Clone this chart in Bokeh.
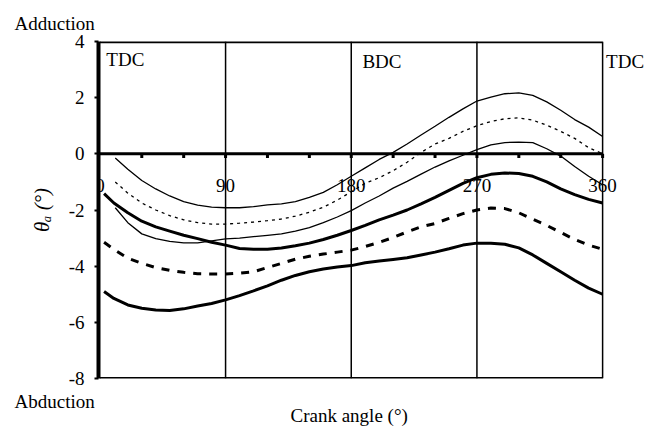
import math
from bokeh.plotting import figure
from bokeh.models import Range1d, Span, Label, FixedTicker, Title
from bokeh.core.properties import value
from bokeh.embed import file_html
from bokeh.resources import INLINE

FONT = "Liberation Serif"

# crank angle samples
x_thin = [11, 20, 30, 40, 50, 60, 70, 80, 90, 100, 110, 120, 130, 140, 150, 160, 170, 180,
          190, 200, 210, 220, 230, 240, 250, 260, 270, 280, 290, 300, 310, 320, 330, 340, 350, 360]
x_thick = [3, 10, 20, 30, 40, 50, 60, 70, 80, 90, 100, 110, 120, 130, 140, 150, 160, 170, 180,
           190, 200, 210, 220, 230, 240, 250, 260, 270, 280, 290, 300, 310, 320, 330, 340, 350, 360]

# upper thin solid (mean + SD)
upper_sd = [-0.15, -0.55, -0.95, -1.25, -1.5, -1.7, -1.83, -1.9, -1.92, -1.92, -1.88, -1.82,
            -1.78, -1.7, -1.55, -1.37, -1.1, -0.8, -0.5, -0.2, 0.05, 0.35, 0.67, 0.98, 1.3,
            1.6, 1.88, 2.02, 2.14, 2.17, 2.08, 1.85, 1.55, 1.22, 0.95, 0.62]
# dotted mean
upper_mean = [-1.0, -1.4, -1.75, -2.0, -2.2, -2.35, -2.45, -2.5, -2.5, -2.47, -2.43, -2.38,
              -2.32, -2.22, -2.08, -1.9, -1.65, -1.35, -1.05, -0.85, -0.6, -0.3, 0.05, 0.35,
              0.55, 0.8, 1.0, 1.15, 1.25, 1.28, 1.2, 1.02, 0.8, 0.55, 0.22, 0.0]
# lower thin solid (mean - SD)
lower_sd = [-1.92, -2.45, -2.85, -3.02, -3.12, -3.17, -3.17, -3.1, -3.03, -3.0, -2.95, -2.9,
            -2.85, -2.75, -2.63, -2.45, -2.25, -2.02, -1.75, -1.5, -1.22, -0.98, -0.72, -0.47,
            -0.25, -0.05, 0.15, 0.32, 0.4, 0.42, 0.4, 0.18, -0.08, -0.45, -0.8, -1.1]
# thick solid (upper of lower group)
thick_upper = [-1.42, -1.75, -2.1, -2.4, -2.6, -2.75, -2.9, -3.02, -3.15, -3.25, -3.37, -3.4,
               -3.4, -3.35, -3.27, -3.18, -3.05, -2.9, -2.73, -2.55, -2.35, -2.18, -2.0, -1.78,
               -1.55, -1.3, -1.05, -0.85, -0.73, -0.68, -0.7, -0.8, -1.0, -1.25, -1.45, -1.62, -1.75]
# thick dashed mean
thick_mean = [-3.15, -3.4, -3.72, -3.9, -4.05, -4.15, -4.22, -4.27, -4.28, -4.28, -4.25, -4.2,
              -4.05, -3.9, -3.75, -3.65, -3.57, -3.5, -3.43, -3.3, -3.15, -2.98, -2.78, -2.6,
              -2.48, -2.3, -2.13, -2.0, -1.93, -1.95, -2.1, -2.33, -2.55, -2.8, -3.05, -3.25, -3.4]
# thick solid lower
thick_lower = [-4.9, -5.15, -5.38, -5.5, -5.56, -5.58, -5.52, -5.42, -5.33, -5.2, -5.05, -4.88,
               -4.7, -4.5, -4.33, -4.2, -4.1, -4.03, -3.98, -3.88, -3.82, -3.76, -3.7, -3.6,
               -3.5, -3.38, -3.25, -3.18, -3.18, -3.22, -3.35, -3.6, -3.9, -4.2, -4.5, -4.78, -5.0]

x_labels = [0, 90, 180, 270, 360]
x_minor = [30, 60, 90, 120, 150, 180, 210, 240, 270, 300, 330, 360]
y_ticks = [-8, -6, -4, -2, 0, 2, 4]
v_lines = [90, 180, 270]

p = figure(width=655, height=428, output_backend="svg", toolbar_location=None,
           x_range=Range1d(-1, 390), y_range=Range1d(-8, 4), x_axis_location=None,
           title="Adduction",
           min_border_left=98, min_border_right=11, min_border_top=41, min_border_bottom=50)
p.xgrid.visible = False
p.ygrid.visible = False
p.outline_line_color = None
p.background_fill_color = "white"
p.border_fill_color = "white"

p.title.align = "left"
p.title.offset = -84
p.title.text_font = FONT
p.title.text_font_size = "19px"
p.title.text_font_style = "normal"
p.title.text_color = "black"
p.title.standoff = 16

t_abd = Title(text="Abduction", align="left", offset=-84, text_font=FONT,
              text_font_size="19px", text_font_style="normal", text_color="black",
              standoff=21)
t_crank = Title(text="Crank angle (°)", align="left", offset=192, text_font=FONT,
                text_font_size="19px", text_font_style="normal", text_color="black",
                standoff=-36, vertical_align="top")
p.add_layout(t_abd, "below")
p.add_layout(t_crank, "below")

ya = p.yaxis[0]
ya.ticker = FixedTicker(ticks=y_ticks)
ya.major_label_overrides = {t: str(t) for t in y_ticks}
ya.axis_line_width = 4
ya.axis_line_color = "black"
ya.major_tick_line_width = 2
ya.major_tick_in = 0
ya.major_tick_out = 4
ya.minor_tick_line_color = None
ya.major_label_standoff = 10
ya.major_label_text_font = FONT
ya.major_label_text_font_size = "19px"
ya.major_label_text_color = "black"
ya.axis_label = "θₐ (°)"
ya.axis_label_text_font = FONT
ya.axis_label_text_font_size = "21px"
ya.axis_label_text_font_style = "italic"
ya.axis_label_text_color = "black"
ya.axis_label_standoff = 12

# frame: right border at 360, vertical lines at BDC etc.
for xv in v_lines:
    p.add_layout(Span(location=xv, dimension="height", line_color="black", line_width=1.5))
p.add_layout(Span(location=x_labels[-1], dimension="height", line_color="black", line_width=1.5))
p.segment(x0=[x_labels[0]], y0=[y_ticks[-1]], x1=[x_labels[-1]], y1=[y_ticks[-1]],
          line_color="black", line_width=3.5)
p.segment(x0=[x_labels[0]], y0=[y_ticks[0]], x1=[x_labels[-1]], y1=[y_ticks[0]],
          line_color="black", line_width=3)
# zero line acting as x axis
p.segment(x0=[x_labels[0]], y0=[0], x1=[x_labels[-1]], y1=[0], line_color="black", line_width=3)
p.segment(x0=x_minor, y0=[0] * len(x_minor), x1=x_minor, y1=[-0.15] * len(x_minor),
          line_color="black", line_width=3)

p.text(x=x_labels, y=[-1.14] * len(x_labels), text=[str(v) for v in x_labels],
       text_font=value(FONT), text_font_size="19px", text_align="center",
       text_baseline="middle", text_color="black")

p.line(x_thin, upper_sd, line_color="black", line_width=1.3)
p.line(x_thin, upper_mean, line_color="black", line_width=1.3, line_dash="3 4")
p.line(x_thin, lower_sd, line_color="black", line_width=1.3)
p.line(x_thick, thick_upper, line_color="black", line_width=3)
p.line(x_thick, thick_mean, line_color="black", line_width=3, line_dash="8 8")
p.line(x_thick, thick_lower, line_color="black", line_width=3)

def lab(x, y, text):
    p.add_layout(Label(x=x, y=y, text=text, text_font=FONT, text_font_size="19px",
                       text_align="left", text_baseline="middle", text_color="black"))

lab(4.6, 3.35, "TDC")
lab(188, 3.3, "BDC")
lab(362.5, 3.3, "TDC")

open("out.html", "w").write(file_html(p, INLINE))
